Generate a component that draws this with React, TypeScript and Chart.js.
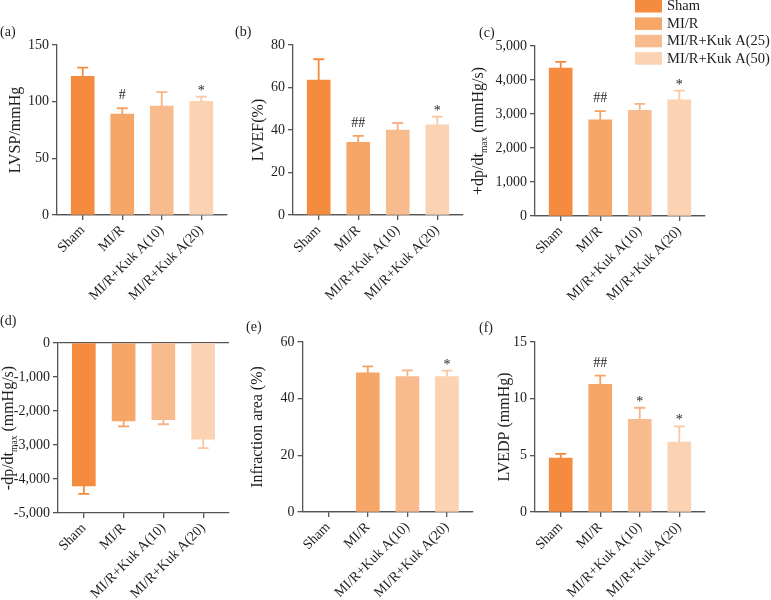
import React, { useEffect, useRef } from 'react';
import { Chart, registerables } from 'chart.js';

Chart.register(...registerables);

// ---------------- data ----------------
const CATEGORIES = ['Sham', 'MI/R', 'MI/R+Kuk A(10)', 'MI/R+Kuk A(20)'];
const LEGEND_LABELS = ['Sham', 'MI/R', 'MI/R+Kuk A(25)', 'MI/R+Kuk A(50)'];

const LVSP_MEAN = [122.4, 89.0, 96.2, 100.2];
const LVSP_SD = [7.6, 5.2, 12.3, 4.2];
const LVSP_MARKS = ['', '#', '', '*'];

const LVEF_MEAN = [63.5, 34.2, 40.0, 42.4];
const LVEF_SD = [9.8, 3.0, 3.3, 3.9];
const LVEF_MARKS = ['', '##', '', '*'];

const DPDT_MAX_MEAN = [4350, 2830, 3105, 3420];
const DPDT_MAX_SD = [185, 255, 195, 265];
const DPDT_MAX_MARKS = ['', '##', '', '*'];

const DPDT_MIN_MEAN = [-4200, -2295, -2255, -2825];
const DPDT_MIN_SD = [235, 155, 135, 265];
const DPDT_MIN_MARKS = ['', '', '', ''];

const INFARCT_MEAN: (number | null)[] = [null, 49.1, 47.8, 47.8];
const INFARCT_SD: (number | null)[] = [null, 2.3, 2.2, 2.1];
const INFARCT_MARKS = ['', '', '', '*'];

const LVEDP_MEAN = [4.76, 11.26, 8.18, 6.18];
const LVEDP_SD = [0.36, 0.77, 1.02, 1.38];
const LVEDP_MARKS = ['', '##', '*', '*'];

// ---------------- style ----------------
const BAR_COLORS = ['#F58B3E', '#F6A667', '#F8BB8E', '#FBD2B2'];
const ERR_COLORS = ['#F58B3E', '#F5A263', '#F7B486', '#F9C8A4'];
const FONT = "'Liberation Serif', 'Times New Roman', 'DejaVu Serif', serif";
const AXIS = '#555555';
const TEXT = '#1e1e1e';
const TITLE_SIZE = 16;

type Box = { x: number; y: number; w: number; h: number };
type Area = { l: number; r: number; t: number; b: number };
type PanelSpec = {
  id: string;
  label: string;
  mean: (number | null)[];
  sd: (number | null)[];
  marks: string[];
  yMin: number;
  yMax: number;
  yStep: number;
  title?: string;
  titleParts?: [string, string, string];
  canvas: Box;
  area: Area;
  titleX: number;
  labelPos: { x: number; y: number };
  legend?: boolean;
};

const PANELS: PanelSpec[] = [
  {
    id: 'a', label: '(a)', mean: LVSP_MEAN, sd: LVSP_SD, marks: LVSP_MARKS,
    yMin: 0, yMax: 150, yStep: 50, title: 'LVSP/mmHg',
    canvas: { x: 0, y: 0, w: 240, h: 300 }, area: { l: 57, r: 227, t: 45, b: 215 },
    titleX: 16, labelPos: { x: 0, y: 32 },
  },
  {
    id: 'b', label: '(b)', mean: LVEF_MEAN, sd: LVEF_SD, marks: LVEF_MARKS,
    yMin: 0, yMax: 80, yStep: 20, title: 'LVEF(%)',
    canvas: { x: 232, y: 0, w: 240, h: 300 }, area: { l: 293, r: 463, t: 45, b: 215 },
    titleX: 259, labelPos: { x: 235, y: 32 },
  },
  {
    id: 'c', label: '(c)', mean: DPDT_MAX_MEAN, sd: DPDT_MAX_SD, marks: DPDT_MAX_MARKS,
    yMin: 0, yMax: 5000, yStep: 1000, titleParts: ['+dp/dt', 'max', ' (mmHg/s)'],
    canvas: { x: 470, y: 0, w: 301, h: 300 }, area: { l: 535, r: 705, t: 46, b: 216 },
    titleX: 479, labelPos: { x: 479, y: 33 }, legend: true,
  },
  {
    id: 'd', label: '(d)', mean: DPDT_MIN_MEAN, sd: DPDT_MIN_SD, marks: DPDT_MIN_MARKS,
    yMin: -5000, yMax: 0, yStep: 1000, titleParts: ['-dp/dt', 'max', ' (mmHg/s)'],
    canvas: { x: 0, y: 300, w: 240, h: 300 }, area: { l: 58, r: 229, t: 343, b: 513 },
    titleX: 9, labelPos: { x: 0, y: 321 },
  },
  {
    id: 'e', label: '(e)', mean: INFARCT_MEAN, sd: INFARCT_SD, marks: INFARCT_MARKS,
    yMin: 0, yMax: 60, yStep: 20, title: 'Infraction area (%)',
    canvas: { x: 240, y: 300, w: 240, h: 300 }, area: { l: 302.5, r: 472.7, t: 342, b: 512 },
    titleX: 257.5, labelPos: { x: 246, y: 327 },
  },
  {
    id: 'f', label: '(f)', mean: LVEDP_MEAN, sd: LVEDP_SD, marks: LVEDP_MARKS,
    yMin: 0, yMax: 15, yStep: 5, title: 'LVEDP (mmHg)',
    canvas: { x: 470, y: 300, w: 301, h: 300 }, area: { l: 535, r: 705, t: 342, b: 512 },
    titleX: 505, labelPos: { x: 479, y: 328 },
  },
];

function makeDeco(spec: PanelSpec) {
  return {
    id: 'deco_' + spec.id,
    afterDatasetsDraw(chart: any) {
      const ctx = chart.ctx as CanvasRenderingContext2D;
      const xs = chart.scales.x;
      const ys = chart.scales.y;
      ctx.save();
      spec.mean.forEach((m, i) => {
        if (m === null || m === undefined) return;
        const s = spec.sd[i] || 0;
        const dir = m < 0 ? -1 : 1;
        const px = xs.getPixelForValue(i);
        const y0 = ys.getPixelForValue(m);
        const y1 = ys.getPixelForValue(m + dir * s);
        ctx.strokeStyle = ERR_COLORS[i];
        ctx.lineWidth = 1.8;
        ctx.beginPath();
        ctx.moveTo(px, y0);
        ctx.lineTo(px, y1);
        ctx.moveTo(px - 5.5, y1);
        ctx.lineTo(px + 5.5, y1);
        ctx.stroke();
        const mk = spec.marks[i];
        if (mk) {
          ctx.fillStyle = TEXT;
          ctx.font = `14px ${FONT}`;
          ctx.textAlign = 'center';
          ctx.textBaseline = 'alphabetic';
          const gap = mk.includes('#') ? 9 : 2;
          ctx.fillText(mk, px, y1 - gap);
        }
      });
      ctx.restore();
    },
    afterDraw(chart: any) {
      const ctx = chart.ctx as CanvasRenderingContext2D;
      const cv = spec.canvas;
      ctx.save();
      // panel label
      ctx.fillStyle = TEXT;
      ctx.font = `14px ${FONT}`;
      ctx.textAlign = 'left';
      ctx.textBaseline = 'middle';
      ctx.fillText(spec.label, spec.labelPos.x - cv.x, spec.labelPos.y - cv.y);

      // y title with subscript
      if (spec.titleParts) {
        const [a, b, c] = spec.titleParts;
        const cx = spec.titleX - cv.x;
        const cy = (chart.chartArea.top + chart.chartArea.bottom) / 2;
        const mainF = `${TITLE_SIZE}px ${FONT}`;
        const subF = `9.5px ${FONT}`;
        ctx.font = mainF;
        const wa = ctx.measureText(a).width;
        const wc = ctx.measureText(c).width;
        ctx.font = subF;
        const wb = ctx.measureText(b).width;
        ctx.translate(cx, cy);
        ctx.rotate(-Math.PI / 2);
        let x = -(wa + wb + wc) / 2;
        ctx.textBaseline = 'middle';
        ctx.textAlign = 'left';
        ctx.font = mainF;
        ctx.fillText(a, x, 0);
        x += wa;
        ctx.font = subF;
        ctx.fillText(b, x, 5);
        x += wb;
        ctx.font = mainF;
        ctx.fillText(c, x, 0);
        ctx.setTransform(1, 0, 0, 1, 0, 0);
      }

      // legend
      if (spec.legend) {
        LEGEND_LABELS.forEach((lab, i) => {
          const top = i * 17.4;
          ctx.fillStyle = BAR_COLORS[i];
          ctx.fillRect(635 - cv.x, top, 27, 12.5);
          ctx.fillStyle = TEXT;
          ctx.font = `14.5px ${FONT}`;
          ctx.textAlign = 'left';
          ctx.textBaseline = 'middle';
          ctx.fillText(lab, 667 - cv.x, top + 6.5);
        });
      }
      ctx.restore();
    },
  };
}

function Panel({ spec }: { spec: PanelSpec }) {
  const ref = useRef<HTMLCanvasElement>(null);
  const cv = spec.canvas;
  useEffect(() => {
    const canvas = ref.current;
    if (!canvas) return;
    const area = spec.area;
    const yW = area.l - cv.x;
    const xH = cv.y + cv.h - area.b;
    const padTop = area.t - cv.y;
    const padRight = cv.x + cv.w - area.r;
    const titlePadTop = spec.titleX - cv.x - (TITLE_SIZE * 1.2) / 2;
    const chart = new Chart(canvas, {
      type: 'bar',
      data: {
        datasets: [
          {
            data: spec.mean.map((m, i) => ({ x: i, y: m })) as any,
            backgroundColor: BAR_COLORS,
            borderWidth: 0,
            barThickness: 23,
          },
        ],
      },
      options: {
        responsive: false,
        animation: false,
        devicePixelRatio: 1,
        locale: 'en-US',
        events: [],
        layout: { padding: { left: 0, top: padTop, right: padRight, bottom: 0 } },
        plugins: { legend: { display: false }, tooltip: { enabled: false } },
        scales: {
          x: {
            type: 'linear',
            min: -0.65,
            max: 3.65,
            offset: false,
            bounds: 'data',
            afterBuildTicks: (s: any) => {
              s.ticks = CATEGORIES.map((_, i) => ({ value: i }));
            },
            afterFit: (s: any) => {
              s.height = xH;
            },
            ticks: {
              autoSkip: false,
              minRotation: 45,
              maxRotation: 45,
              padding: 2,
              color: TEXT,
              font: { family: FONT, size: 14 },
              callback: (v: any) => CATEGORIES[Math.round(Number(v))] ?? '',
            },
            grid: { offset: false, drawOnChartArea: false, drawTicks: true, tickLength: 5, color: AXIS, lineWidth: 1.3 },
            border: { display: true, color: AXIS, width: 1.3 },
          },
          y: {
            type: 'linear',
            min: spec.yMin,
            max: spec.yMax,
            afterFit: (s: any) => {
              s.width = yW;
            },
            ticks: {
              stepSize: spec.yStep,
              padding: 3,
              color: TEXT,
              font: { family: FONT, size: 14 },
            },
            grid: {
              drawOnChartArea: true,
              tickLength: 5,
              lineWidth: 1.3,
              tickColor: AXIS,
              color: (c: any) => (c.tick && c.tick.value === 0 ? AXIS : 'rgba(0,0,0,0)'),
            },
            border: { display: true, color: AXIS, width: 1.3 },
            title: {
              display: !!spec.title,
              text: spec.title || '',
              color: TEXT,
              font: { family: FONT, size: TITLE_SIZE },
              padding: { top: Math.max(titlePadTop, 0), bottom: 0 },
            },
          },
        },
      } as any,
      plugins: [makeDeco(spec)],
    });
    return () => chart.destroy();
  }, [spec]);
  return (
    <div style={{ position: 'absolute', left: cv.x, top: cv.y, width: cv.w, height: cv.h }}>
      <canvas ref={ref} width={cv.w} height={cv.h} style={{ width: cv.w, height: cv.h, display: 'block' }} />
    </div>
  );
}

export default function App() {
  return (
    <div style={{ position: 'absolute', left: 0, top: 0, width: 771, height: 600, background: '#ffffff', overflow: 'hidden' }}>
      {PANELS.map((p) => (
        <Panel key={p.id} spec={p} />
      ))}
    </div>
  );
}
